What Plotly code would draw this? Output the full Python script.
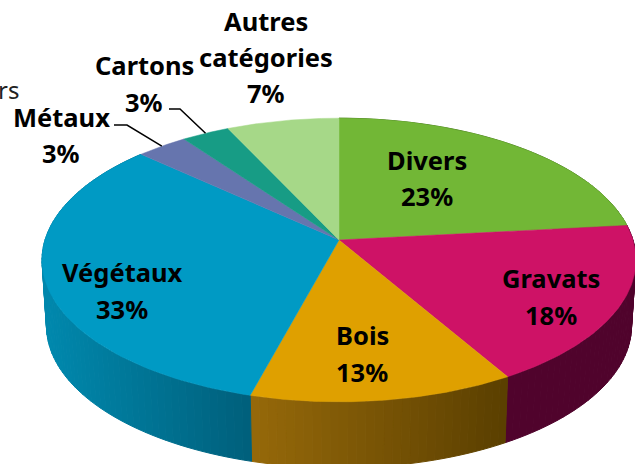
import numpy as np
import plotly.graph_objects as go

# Data
categories = ["Divers", "Gravats", "Bois", "Végétaux", "Métaux", "Cartons", "Autres catégories"]
shares = [23.3, 18.3, 12.6, 32.6, 3.2, 3.0, 7.0]

# Styles
top_colors = ["#72B736", "#CE1266", "#DFA000", "#009AC4", "#6675AE", "#179C85", "#A6D888"]
wall_left = ["#4F8026", "#50032C", "#96690A", "#0088AD", "#46527A", "#106D5D", "#74975F"]
wall_right = ["#4F8026", "#50032C", "#5A3F00", "#005F7B", "#46527A", "#106D5D", "#74975F"]
# label line positions (x centre, y of each line)
label_layout = [
    (427, [160, 196]), (551, [278, 315]), (362, [335, 372]), (122, [272, 309]),
    (61, [117, 153]), (144, [65, 102]), (266, [21, 57, 93]),
]
FONT = "Noto Sans"
FS = 25.5

CX, CY, RX, RY, P = 339.0, 240.0, 294.0, 139.0, 0.141
DEPTH, SHRINK = 66.0, 0.985


def rim(theta):
    """Perspective projection of the pie rim; theta clockwise from 12 o'clock, radians."""
    X, Y = np.sin(theta), np.cos(theta)
    d = 1 + P * Y
    return CX + RX * X / d, CY - RY * Y / d


def lower(px, py):
    return CX + (px - CX) * SHRINK, py + DEPTH


def hex_rgb(h):
    return np.array([int(h[i:i + 2], 16) for i in (1, 3, 5)], float)


edges = np.concatenate([[0], np.cumsum(shares)]) / np.sum(shares) * 2 * np.pi
fig = go.Figure()

# Walls (front part), drawn as narrow strips to get the shading
x_min, x_max = rim(np.pi * 1.5)[0], rim(np.pi * 0.5)[0]
for i in range(len(categories)):
    a0, a1 = edges[i], edges[i + 1]
    if a1 < np.pi * 0.35 or a0 > np.pi * 1.65:
        continue
    steps = np.linspace(a0, a1, max(2, int((a1 - a0) / np.radians(1.5)) + 1))
    x_start, x_end = min(rim(a0)[0], rim(a1)[0]), max(rim(a0)[0], rim(a1)[0])
    if i == 3:
        x_start = x_min
    cl, cr = hex_rgb(wall_left[i]), hex_rgb(wall_right[i])
    for s0, s1 in zip(steps[:-1], steps[1:]):
        tx, ty = rim(np.linspace(s0, s1, 4))
        bx, by = lower(tx, ty)
        t = np.clip((tx.mean() - x_start) / max(x_end - x_start, 1), 0, 1)
        c = cl + (cr - cl) * t
        col = f"rgb({c[0]:.0f},{c[1]:.0f},{c[2]:.0f})"
        fig.add_trace(go.Scatter(
            x=np.concatenate([tx, bx[::-1], tx[:1]]),
            y=np.concatenate([ty, by[::-1], ty[:1]]),
            mode="lines", fill="toself", fillcolor=col,
            line=dict(color=col, width=1), hoverinfo="skip", showlegend=False,
        ))

# Top face
for i, name in enumerate(categories):
    arc = np.linspace(edges[i], edges[i + 1], 90)
    ax, ay = rim(arc)
    fig.add_trace(go.Scatter(
        x=np.concatenate([[CX], ax, [CX]]),
        y=np.concatenate([[CY], ay, [CY]]),
        mode="lines", fill="toself", fillcolor=top_colors[i],
        line=dict(color=top_colors[i], width=0.5),
        name=name, hoverinfo="name", showlegend=False,
    ))

# Leader lines for the two small slices
for i, (sx, ex, ey) in {4: (114, 127, 125), 5: (169, 180, 109)}.items():
    mx, my = rim((edges[i] + edges[i + 1]) / 2)
    fig.add_trace(go.Scatter(
        x=[sx, ex, mx], y=[ey, ey, my], mode="lines",
        line=dict(color="black", width=1.5), hoverinfo="skip", showlegend=False,
    ))

# Labels
annots = []
for i, name in enumerate(categories):
    pct = f"{round(shares[i] / sum(shares) * 100)}%"
    lines = name.split(" ") + [pct]
    xc, ys = label_layout[i]
    for text, y in zip(lines, ys):
        annots.append(dict(x=xc, y=y, text=f"<b>{text}</b>", showarrow=False,
                           xanchor="center", yanchor="middle",
                           font=dict(family=FONT, size=FS, color="black")))
# Clipped label at the left edge of the picture
annots.append(dict(x=0, xshift=-4, y=89, text="rs", showarrow=False, xanchor="left", yanchor="middle",
                   font=dict(family=FONT, size=24, color="#222222")))

fig.update_layout(
    width=635, height=464, margin=dict(l=0, r=0, t=0, b=0),
    paper_bgcolor="white", plot_bgcolor="white", showlegend=False,
    xaxis=dict(range=[0, 635], visible=False, fixedrange=True),
    yaxis=dict(range=[464, 0], visible=False, fixedrange=True),
    annotations=annots,
)
fig.write_html("out.html", config=dict(displayModeBar=False),
               post_script="document.body.style.margin='0';document.documentElement.style.overflow='hidden';")
